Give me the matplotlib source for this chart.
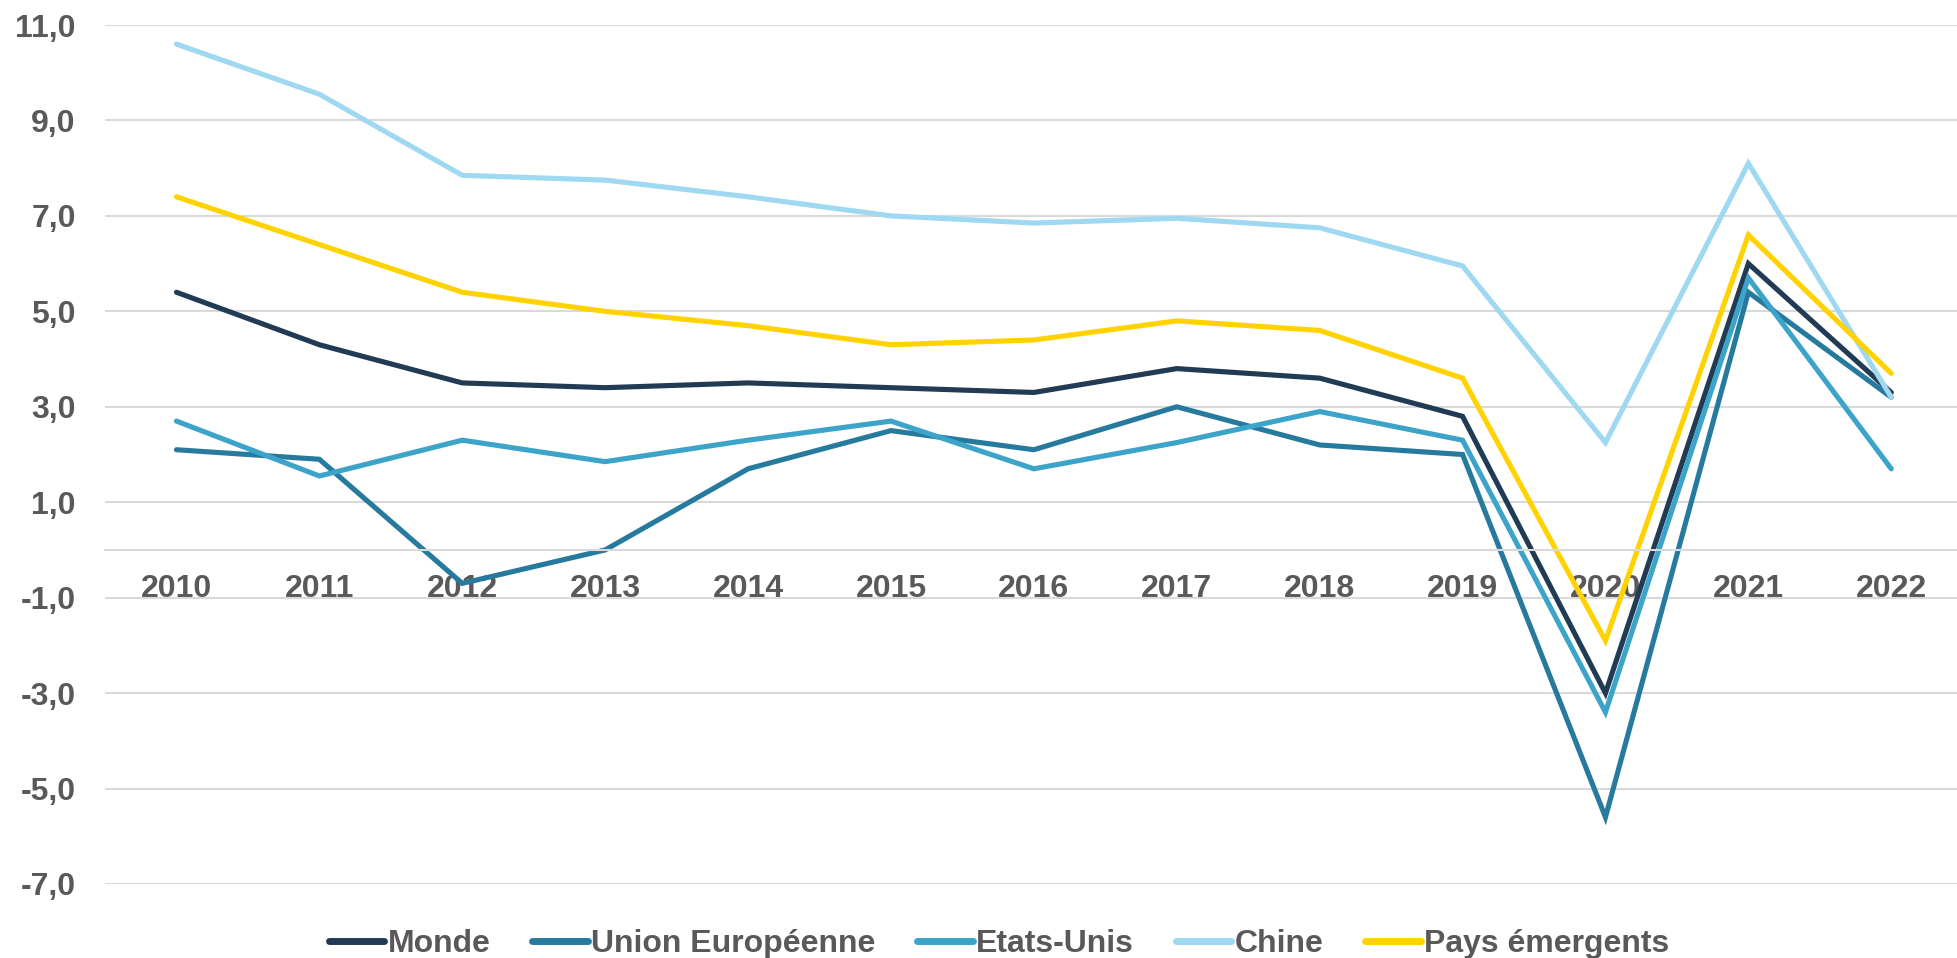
import numpy as np
import matplotlib
matplotlib.use("Agg")
import matplotlib.pyplot as plt
from matplotlib.ticker import FuncFormatter

plt.rcParams['font.family'] = ['Liberation Sans', 'DejaVu Sans']

# data
years = ['2010', '2011', '2012', '2013', '2014', '2015', '2016',
         '2017', '2018', '2019', '2020', '2021', '2022']
monde = [5.4, 4.3, 3.5, 3.4, 3.5, 3.4, 3.3, 3.8, 3.6, 2.8, -3.0, 6.0, 3.3]
union_europeenne = [2.1, 1.9, -0.7, 0.0, 1.7, 2.5, 2.1, 3.0, 2.2, 2.0, -5.6, 5.4, 3.2]
etats_unis = [2.7, 1.55, 2.3, 1.85, 2.3, 2.7, 1.7, 2.25, 2.9, 2.3, -3.4, 5.7, 1.7]
chine = [10.6, 9.55, 7.85, 7.75, 7.4, 7.0, 6.85, 6.95, 6.75, 5.95, 2.25, 8.1, 3.2]
pays_emergents = [7.4, 6.4, 5.4, 5.0, 4.7, 4.3, 4.4, 4.8, 4.6, 3.6, -1.9, 6.6, 3.7]

series = [
    ('Monde', monde, '#203b53'),
    ('Union Européenne', union_europeenne, '#267a9e'),
    ('Etats-Unis', etats_unis, '#3ca3c9'),
    ('Chine', chine, '#9fd8f1'),
    ('Pays émergents', pays_emergents, '#ffd200'),
]

text_color = '#595959'
grid_color = '#d9d9d9'
fs = 23

fig = plt.figure(figsize=(19.57, 9.58), dpi=100)
ax = fig.add_axes([105 / 1957, 74 / 958, 1 - 105 / 1957, 859 / 958])

x = np.arange(len(years))
for name, vals, col in series:
    ax.plot(x, vals, color=col, lw=3.7, label=name, solid_capstyle='round',
            solid_joinstyle='miter')

ax.set_xlim(-0.5, 12.46)
ax.set_ylim(-7, 11)
ax.set_yticks(np.arange(-7, 12, 2))
ax.yaxis.set_major_formatter(FuncFormatter(lambda v, p: ('%.1f' % v).replace('.', ',')))
ax.grid(axis='y', color=grid_color, lw=1.5)
ax.set_axisbelow(True)

ax.set_xticks(x)
ax.set_xticklabels(years)
for s in ['top', 'right', 'left']:
    ax.spines[s].set_visible(False)
ax.spines['bottom'].set_position(('data', 0))
ax.spines['bottom'].set_color(grid_color)
ax.spines['bottom'].set_linewidth(1.5)
ax.tick_params(axis='both', length=0, labelsize=fs, labelcolor=text_color)
ax.tick_params(axis='x', pad=17)
ax.tick_params(axis='y', pad=21)
for lab in ax.get_xticklabels() + ax.get_yticklabels():
    lab.set_fontweight('bold')

leg = fig.legend(loc='center', bbox_to_anchor=(999 / 1957, 14 / 958), ncol=5,
                 frameon=False, handlelength=1.75, handletextpad=0.1,
                 columnspacing=1.3, prop={'weight': 'bold', 'size': fs})
for t in leg.get_texts():
    t.set_color(text_color)
for h in leg.get_lines():
    h.set_linewidth(5)

fig.savefig('out.png', dpi=100)
